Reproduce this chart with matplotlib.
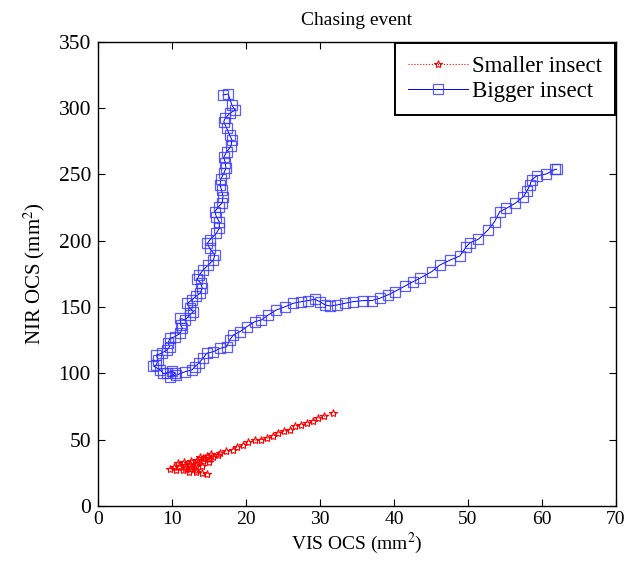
import matplotlib
matplotlib.use("Agg")
from matplotlib import pyplot as plt

plt.rcParams['font.family'] = ['Liberation Serif', 'DejaVu Serif']
plt.rcParams['mathtext.fontset'] = 'stix'

# smaller insect trajectory (VIS OCS, NIR OCS)
small_x = [14.8, 14.0, 13.2, 12.3, 11.5, 10.5, 9.7, 10.3, 11.0, 11.8, 12.5, 13.3,
           12.6, 11.7, 10.8, 11.6, 12.4, 13.2, 14.0, 13.4, 12.6, 13.4, 14.2, 15.0,
           14.5, 13.8, 14.8, 15.6, 15.0, 14.2, 15.3, 16.2, 16.5, 17.3, 18.2, 18.8,
           19.6, 20.3, 21.2, 22.0, 22.8, 23.6, 24.3, 25.2, 25.9, 26.6, 27.4, 28.2,
           29.0, 29.8, 30.5, 31.7]
small_y = [24.5, 25.0, 25.5, 26.0, 26.8, 27.2, 28.0, 29.5, 30.0, 29.0, 28.0, 27.5,
           29.5, 31.0, 32.5, 33.0, 32.0, 31.0, 30.5, 32.5, 34.0, 35.0, 34.0, 33.5,
           36.0, 37.0, 38.0, 37.0, 35.5, 36.5, 39.0, 38.5, 40.0, 41.5, 42.5, 44.5,
           46.0, 48.0, 49.5, 50.0, 51.0, 53.0, 55.0, 56.5, 57.5, 60.5, 61.0, 62.5,
           64.0, 66.0, 67.5, 70.0]

# bigger insect trajectory
big_x = [16.9, 17.6, 18.1, 18.5, 17.8, 17.2, 17.0, 17.4, 17.8, 18.1, 18.0, 17.4,
         17.0, 17.2, 17.3, 17.0, 16.6, 16.5, 16.7, 16.9, 16.8, 16.3, 15.8, 16.0,
         16.4, 16.4, 16.0, 15.1, 14.8, 15.1, 15.8, 15.6, 14.9, 14.2, 13.7, 13.4,
         13.9, 14.1, 13.8, 13.3, 12.7, 12.1, 12.4, 12.9, 12.4, 11.8, 11.1, 11.2,
         11.4, 11.1, 10.4, 9.7, 9.5, 9.7, 9.3, 8.6, 7.9, 8.1, 7.9, 7.5, 8.4, 8.8,
         9.3, 10.0, 10.4, 9.7, 10.6, 11.8, 12.7, 13.1, 13.6, 14.2, 14.7, 15.6,
         16.5, 17.4, 17.8, 18.3, 19.2, 20.1, 21.2, 22.1, 23.0, 24.1, 25.3, 26.4,
         27.5, 28.4, 29.3, 30.0, 30.7, 31.4, 32.3, 33.4, 34.5, 35.8, 37.0, 38.1,
         39.2, 40.1, 41.5, 42.6, 43.5, 45.1, 46.2, 47.6, 48.9, 49.8, 50.3, 51.4,
         52.7, 53.6, 54.3, 55.2, 56.4, 57.5, 58.0, 58.4, 58.6, 59.3, 60.6, 61.8,
         62.0]
big_y = [310.0, 310.7, 302.4, 298.6, 296.0, 292.4, 289.8, 284.8, 279.8, 276.0,
         271.5, 267.2, 263.0, 258.9, 254.6, 250.9, 246.4, 242.1, 238.3, 233.3,
         228.7, 225.8, 222.0, 218.2, 214.4, 209.4, 205.7, 200.6, 198.1, 194.3,
         189.3, 185.5, 181.7, 178.0, 174.2, 171.0, 168.0, 164.2, 160.4, 158.4,
         155.4, 152.9, 149.1, 146.6, 144.0, 140.3, 141.5, 136.5, 134.0, 130.2,
         127.7, 126.5, 122.7, 120.1, 117.6, 115.2, 113.9, 110.1, 106.3, 105.6,
         102.6, 100.0, 100.0, 102.0, 100.0, 97.5, 98.8, 101.3, 102.6, 105.1,
         107.6, 111.4, 115.2, 116.4, 118.9, 120.1, 125.2, 129.0, 131.5, 135.2,
         139.0, 140.3, 144.0, 147.8, 150.3, 152.9, 154.1, 154.9, 155.9, 154.1,
         151.6, 150.8, 151.6, 152.9, 154.1, 154.9, 154.9, 156.7, 159.2, 161.7,
         165.9, 169.2, 171.7, 176.7, 181.7, 185.5, 188.5, 195.6, 198.6, 201.1,
         208.1, 214.4, 222.0, 224.5, 228.3, 233.3, 237.8, 242.1, 245.9, 248.9,
         250.4, 253.9, 253.9]

fig = plt.figure(figsize=(6.24, 5.66), dpi=100)
ax = fig.add_axes([0.157, 0.106, 0.830, 0.820])

ax.plot(small_x, small_y, color='red', linestyle=':', linewidth=0.8,
        marker='*', markersize=6, markerfacecolor='none',
        markeredgecolor='red', markeredgewidth=0.8, label='Smaller insect')
ax.plot(big_x, big_y, color='blue', linestyle='-', linewidth=0.7,
        marker='s', markersize=6.5, markerfacecolor='none',
        markeredgecolor=(0.2, 0.2, 1.0, 0.8), markeredgewidth=0.9,
        label='Bigger insect')

ax.set_xlim(0, 70)
ax.set_ylim(0, 350)
ax.set_xticks(range(0, 71, 10))
ax.set_yticks(range(0, 351, 50))
ax.tick_params(direction='in', top=True, right=True, length=5, width=0.8)
ax.tick_params(axis='x', labelsize=14)
ax.tick_params(axis='y', labelsize=15.5, pad=5)
for s in ax.spines.values():
    s.set_linewidth(1.0)

ax.set_title('Chasing event', fontsize=14, pad=12)
ax.set_xlabel('VIS OCS (mm$^2$)', fontsize=14, labelpad=2)
ax.set_ylabel('NIR OCS (mm$^2$)', fontsize=15, labelpad=8)

leg = ax.legend(loc='upper right', fontsize=16.5, fancybox=False,
                framealpha=1, edgecolor='black', borderaxespad=0.05,
                handlelength=2.6, handletextpad=0.2, borderpad=0.55,
                labelspacing=0.2)
leg.get_frame().set_linewidth(1.4)

fig.savefig('out.png', dpi=100)
